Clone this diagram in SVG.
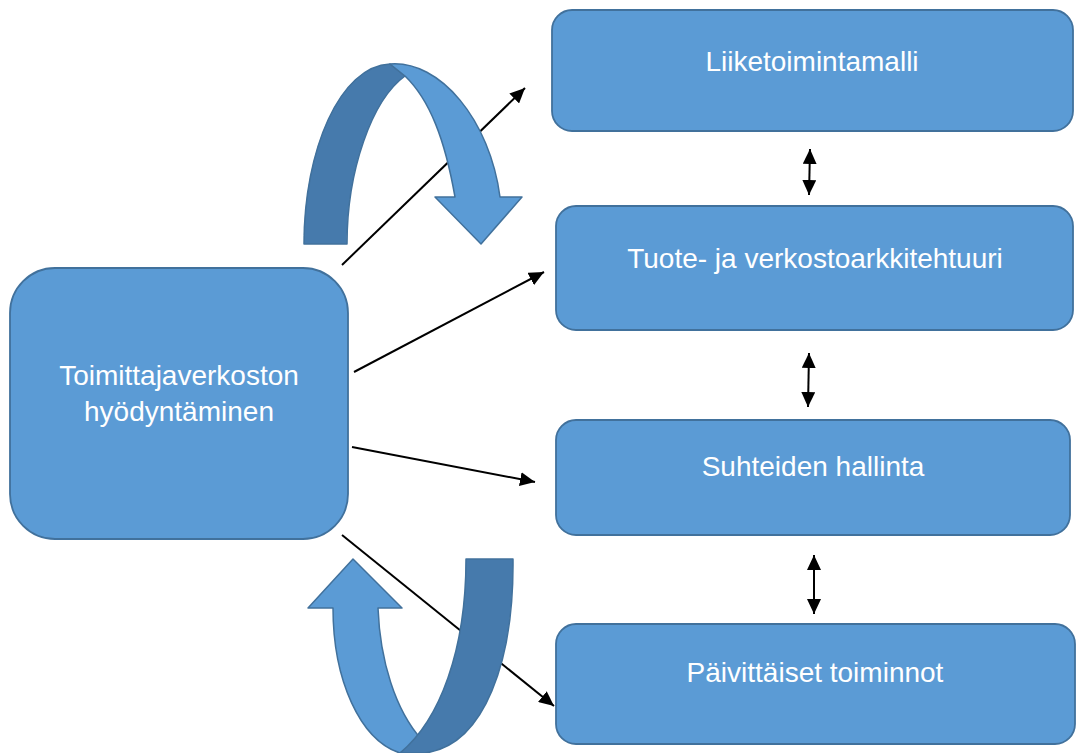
<svg xmlns="http://www.w3.org/2000/svg" width="1079" height="753" viewBox="0 0 1079 753">
<style>
.box{fill:#5B9BD5;stroke:#41719C;stroke-width:1.8}
.lbl{font-family:"Liberation Sans",Arial,sans-serif;font-size:28px;fill:#FFFFFF;text-anchor:middle}
.con{stroke:#000;stroke-width:2;fill:none;marker-end:url(#ah)}
.dbl{stroke:#000;stroke-width:2;fill:none;marker-end:url(#ah);marker-start:url(#ahs)}
.lt{fill:#5B9BD5;stroke:#41719C;stroke-width:1.5;stroke-linejoin:round}
.dk{fill:#467AAC;stroke:#41719C;stroke-width:1.5;stroke-linejoin:round}
</style>
<defs>
<marker id="ah" markerUnits="userSpaceOnUse" markerWidth="16" markerHeight="14" viewBox="0 0 16 14" refX="15" refY="7" orient="auto">
<path d="M0,0 L15,7 L0,14 Z" fill="#000"/>
</marker>
<marker id="ahs" markerUnits="userSpaceOnUse" markerWidth="16" markerHeight="14" viewBox="0 0 16 14" refX="15" refY="7" orient="auto-start-reverse">
<path d="M0,0 L15,7 L0,14 Z" fill="#000"/>
</marker>
</defs>
<rect width="1079" height="753" fill="#FFFFFF"/>
<g id="node-main">
<rect class="box" x="10" y="268" width="338" height="271" rx="45" ry="45"/>
<text class="lbl" x="179" y="385">Toimittajaverkoston</text>
<text class="lbl" x="179" y="421">hyödyntäminen</text>
</g>
<g id="node-liiketoimintamalli">
<rect class="box" x="552" y="10" width="521" height="121" rx="20" ry="20"/>
<text class="lbl" x="812" y="71">Liiketoimintamalli</text>
</g>
<g id="node-arkkitehtuuri">
<rect class="box" x="556" y="206" width="517" height="124" rx="20" ry="20"/>
<text class="lbl" x="815" y="268">Tuote- ja verkostoarkkitehtuuri</text>
</g>
<g id="node-suhteet">
<rect class="box" x="556" y="420" width="514" height="115" rx="20" ry="20"/>
<text class="lbl" x="813" y="476">Suhteiden hallinta</text>
</g>
<g id="node-paivittaiset">
<rect class="box" x="556" y="624" width="519" height="120" rx="20" ry="20"/>
<text class="lbl" x="815" y="682">Päivittäiset toiminnot</text>
</g>
<g id="connectors">
<line class="con" x1="342" y1="265" x2="525" y2="88"/>
<line class="con" x1="354" y1="372" x2="544" y2="272"/>
<line class="con" x1="352" y1="447" x2="535" y2="482"/>
<line class="con" x1="342" y1="535" x2="554" y2="706"/>
<line class="dbl" x1="810" y1="149" x2="809" y2="195"/>
<line class="dbl" x1="809" y1="353" x2="808" y2="407"/>
<line class="dbl" x1="814" y1="555" x2="814" y2="614"/>
</g>
<g id="curved-arrow-top">
<path class="dk" d="M304,244 C304,150 340,66 390,64 L405,76 C372,100 347,170 347,244 Z"/>
<path class="lt" d="M390,64 C440,60 490,120 500,197 L522,197 L481,244 L435,197 L455,197 C445,140 430,100 405,76 Z"/>
</g>
<g id="curved-arrow-bottom">
<path class="lt" d="M353,559 L402,608 L378,608 C380,660 395,710 422,740 L400,753 C360,740 333,680 333,608 L308,608 Z"/>
<path class="dk" d="M466,559 L513,559 C514,660 485,745 425,753 L400,753 C440,720 466,650 466,559 Z"/>
</g>
</svg>
